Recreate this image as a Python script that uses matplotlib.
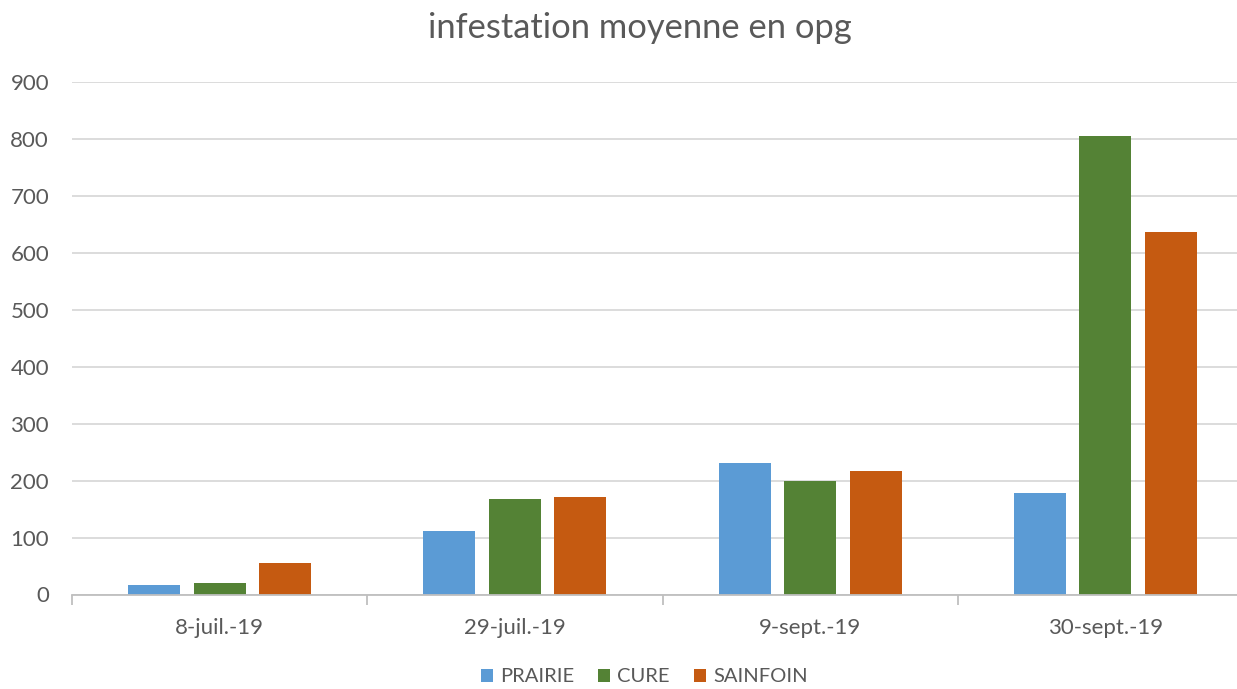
import matplotlib
matplotlib.use("Agg")
import matplotlib.pyplot as plt
import numpy as np
from matplotlib.patches import Patch

categories = ["8-juil.-19", "29-juil.-19", "9-sept.-19", "30-sept.-19"]
series_names = ["PRAIRIE", "CURE", "SAINFOIN"]
prairie = [16, 111, 230, 178]
cure = [21, 168, 200, 804]
sainfoin = [56, 171, 216, 636]
colors = ["#5B9BD5", "#548235", "#C55A11"]
yticks = [0, 100, 200, 300, 400, 500, 600, 700, 800, 900]
title = "infestation moyenne en opg"

plt.rcParams['font.family'] = ['Lato', 'DejaVu Sans']
txt = "#595959"

W, H = 1237, 689
fig = plt.figure(figsize=(W / 100, H / 100), dpi=100)
left, right = 72, 1253
bottom, top = 594.5, 81.7
ax = fig.add_axes([left / W, (H - bottom) / H, (right - left) / W, (bottom - top) / H])

x = np.arange(len(categories))
width = 0.176
offset = 0.222
for i, (vals, name, c) in enumerate(zip([prairie, cure, sainfoin], series_names, colors)):
    ax.bar(x + (i - 1) * offset, vals, width, color=c, label=name, zorder=3)

ax.set_xlim(-0.5, len(categories) - 0.5)
ax.set_ylim(0, 900)
ax.set_yticks(yticks)
ax.set_yticklabels([str(v) for v in yticks], fontsize=16, color=txt)
ax.yaxis.grid(True, color="#d9d9d9", linewidth=1.3, zorder=0)
ax.tick_params(axis='y', length=0, pad=16.5)

ax.set_xticks(x)
ax.set_xticklabels(categories, fontsize=16, color=txt)
ax.tick_params(axis='x', length=0, pad=17)
ax.set_xticks(np.arange(-0.5, len(categories) + 0.5, 1), minor=True)
ax.tick_params(axis='x', which='minor', length=7, color="#bfbfbf", width=1.3)

for s in ["top", "right", "left"]:
    ax.spines[s].set_visible(False)
ax.spines["bottom"].set_color("#bfbfbf")
ax.spines["bottom"].set_linewidth(1.3)
ax.spines["bottom"].set_zorder(4)

fig.text(640 / W, 1 - 28 / H, title, ha="center", va="center", fontsize=24.8, color=txt)

handles = [Patch(facecolor=c, label=n) for c, n in zip(colors, series_names)]
fig.legend(handles=handles, loc="center", bbox_to_anchor=(644 / W, 1 - 677 / H),
           ncol=3, frameon=False, fontsize=14.5, labelcolor=txt,
           handlelength=0.6, handleheight=0.6, handletextpad=0.35, columnspacing=1.2)

fig.savefig("out.png", dpi=100)
